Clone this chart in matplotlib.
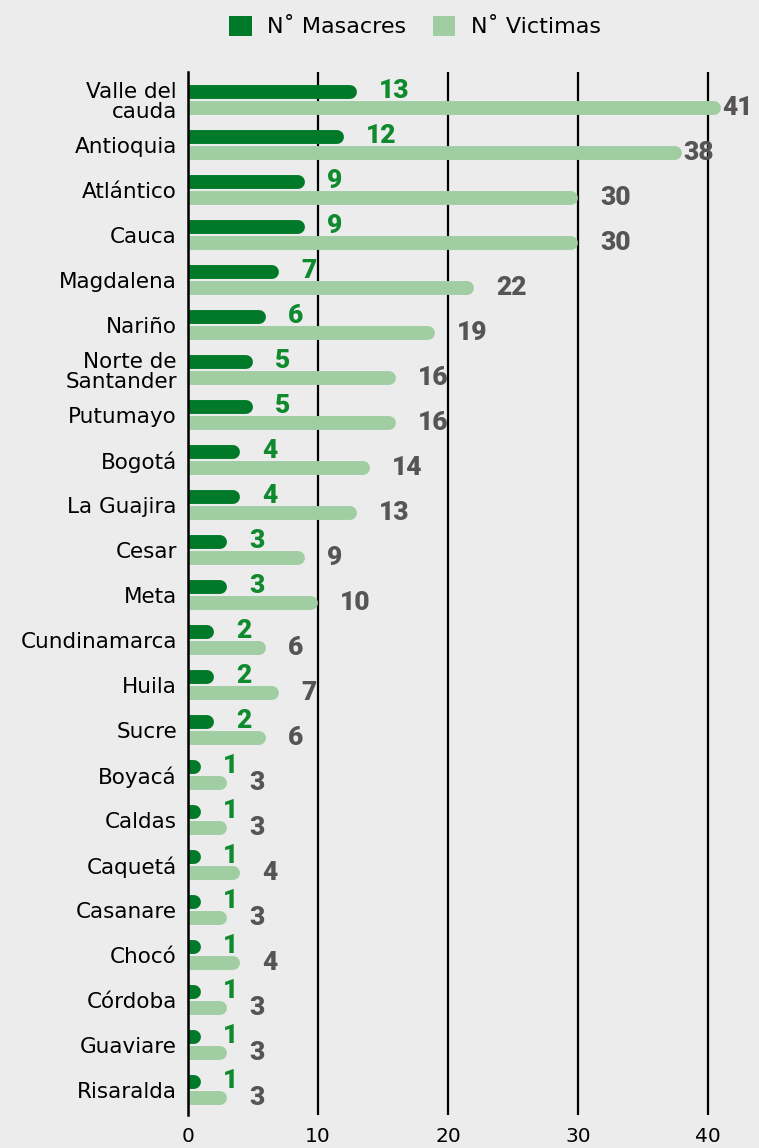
import matplotlib.pyplot as plt
from matplotlib.patches import Patch

departamentos = ["Valle del\ncauda", "Antioquia", "Atlántico", "Cauca", "Magdalena",
                 "Nariño", "Norte de\nSantander", "Putumayo", "Bogotá", "La Guajira",
                 "Cesar", "Meta", "Cundinamarca", "Huila", "Sucre", "Boyacá", "Caldas",
                 "Caquetá", "Casanare", "Chocó", "Córdoba", "Guaviare", "Risaralda"]
masacres = [13, 12, 9, 9, 7, 6, 5, 5, 4, 4, 3, 3, 2, 2, 2, 1, 1, 1, 1, 1, 1, 1, 1]
victimas = [41, 38, 30, 30, 22, 19, 16, 16, 14, 13, 9, 10, 6, 7, 6, 3, 3, 4, 3, 4, 3, 3, 3]
x_ticks = [0, 10, 20, 30, 40]

bg = "#ececec"
dark = "#007a28"
light = "#a0cda1"
green_txt = "#0f8a2e"
grey_txt = "#555555"

px_unit = 13.0  # horizontal pixels per unit

fig = plt.figure(figsize=(7.59, 11.48), dpi=100, facecolor=bg)
ax = fig.add_axes([188 / 759, 1 - 1115 / 1148, 43 * px_unit / 759, (1115 - 72) / 1148])
ax.set_facecolor(bg)

n = len(departamentos)
ax.set_xlim(0, 43)
ax.set_ylim(n - 1 + 0.556, -0.622)

lw = 10  # bar thickness in points
cap = (lw / 2) / 0.72 / px_unit  # round cap radius in data units
off = 0.178

for i in range(n):
    m = masacres[i]
    v = victimas[i]
    ax.plot([0, max(m - cap, 0.01)], [i - off, i - off], color=dark, lw=lw,
            solid_capstyle="round", zorder=3)
    ax.plot([0, v - cap], [i + off, i + off], color=light, lw=lw,
            solid_capstyle="round", zorder=3)
    ax.annotate(str(m), (m, i - off - 0.03), xytext=(16, 0), textcoords="offset points",
                ha="left", va="center", color=green_txt, fontsize=19,
                family="Roboto", fontweight="black", annotation_clip=False)
    gap = 1 if v > 35 else 16
    ax.annotate(str(v), (v, i + off), xytext=(gap, 0), textcoords="offset points",
                ha="left", va="center", color=grey_txt, fontsize=19,
                family="Roboto", fontweight="black", annotation_clip=False)

ax.set_yticks(range(n))
ax.set_yticklabels(departamentos, fontsize=15.5, linespacing=1.0)
ax.set_xticks(x_ticks)
ax.set_xticklabels([str(t) for t in x_ticks], fontsize=14.5)
ax.tick_params(axis="both", length=0)
ax.tick_params(axis="y", pad=8)
ax.tick_params(axis="x", pad=9)

ax.grid(axis="x", color="black", lw=1.6, zorder=1)
ax.set_axisbelow(True)
for s in ["top", "right", "bottom"]:
    ax.spines[s].set_visible(False)
ax.spines["left"].set_linewidth(1.8)
ax.spines["left"].set_zorder(4)

handles = [Patch(facecolor=dark), Patch(facecolor=light)]
fig.legend(handles, ["N˚ Masacres", "N˚ Victimas"], loc="center",
           bbox_to_anchor=(0.547, 0.977), ncol=2, frameon=False, fontsize=16,
           handlelength=1.0, handleheight=1.0, handletextpad=0.7,
           columnspacing=1.2, borderpad=0)

fig.savefig("out.png", dpi=100, facecolor=bg)
